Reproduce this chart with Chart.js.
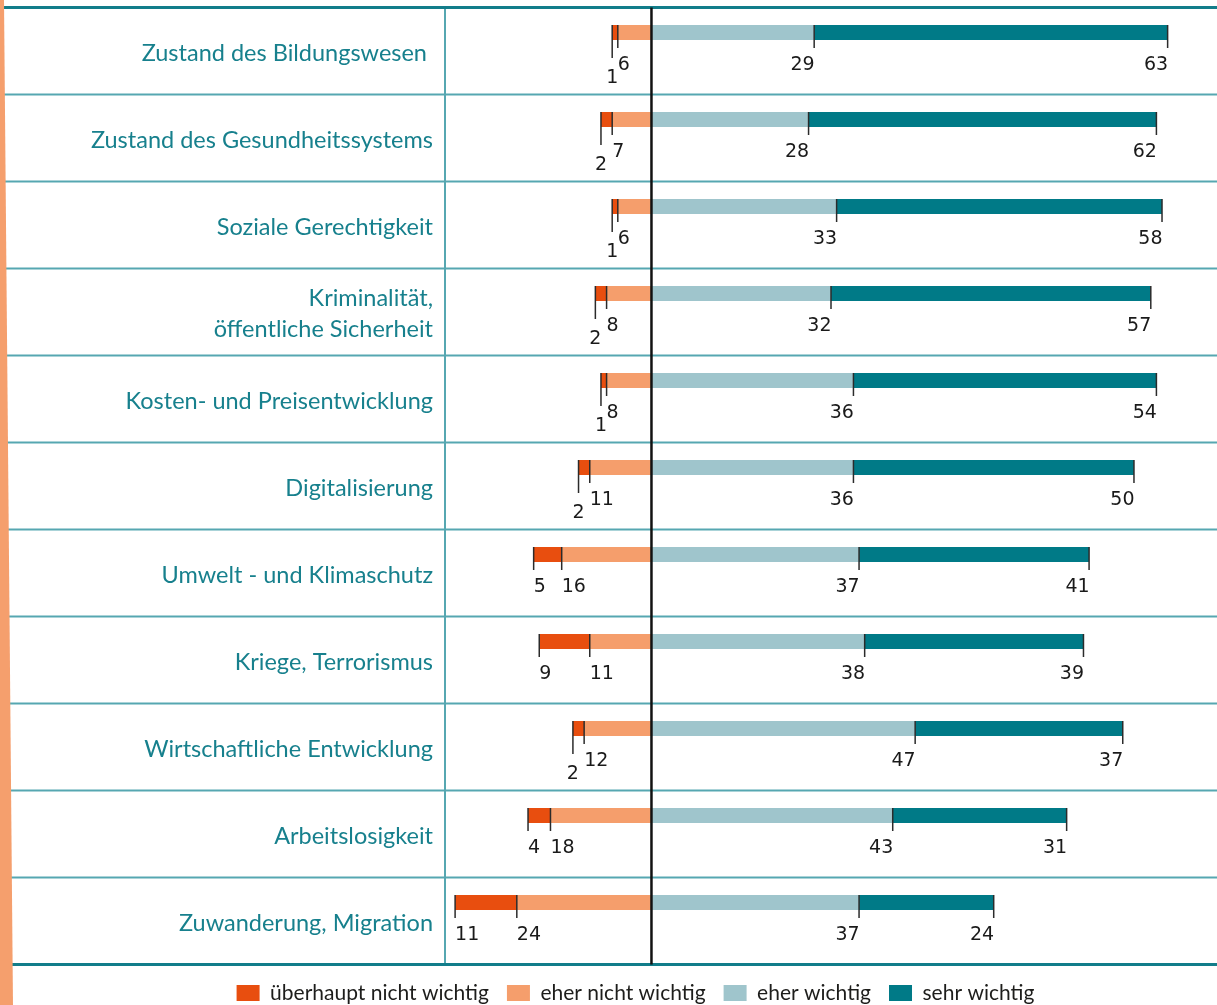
<!DOCTYPE html>
<html lang="de">
<head>
<meta charset="utf-8">
<title>Wichtigkeit von Themen</title>
<script src="https://cdn.jsdelivr.net/npm/chart.js@4.4.1/dist/chart.umd.min.js"></script>
<style>
  html, body { margin: 0; padding: 0; background: #fff; }
  #wrap { position: relative; width: 1217px; height: 1005px; }
</style>
</head>
<body>
<div id="wrap"><canvas id="chart"></canvas></div>
<script>
const categories = [
  'Zustand des Bildungswesen ',
  'Zustand des Gesundheitssystems',
  'Soziale Gerechtigkeit',
  ['Kriminalität,', 'öffentliche Sicherheit'],
  'Kosten- und Preisentwicklung',
  'Digitalisierung',
  'Umwelt - und Klimaschutz',
  'Kriege, Terrorismus',
  'Wirtschaftliche Entwicklung',
  'Arbeitslosigkeit',
  'Zuwanderung, Migration'
];

// Anteile in Prozent
const notAtAll    = [1, 2, 1, 2, 1, 2, 5, 9, 2, 4, 11];
const ratherNot   = [6, 7, 6, 8, 8, 11, 16, 11, 12, 18, 24];
const ratherYes   = [29, 28, 33, 32, 36, 36, 37, 38, 47, 43, 37];
const veryMuch    = [63, 62, 58, 57, 54, 50, 41, 39, 37, 31, 24];

const seriesNames = ['überhaupt nicht wichtig', 'eher nicht wichtig', 'eher wichtig', 'sehr wichtig'];
const seriesColors = ['#e84e0f', '#f59e6c', '#9fc5cc', '#007a87'];

const TEAL = '#17808d';
const LINE = '#56a7b1';

// rahmen, trennlinien, orangener streifen links
const framePlugin = {
  id: 'frame',
  beforeDatasetsDraw(chart) {
    const { ctx, chartArea: a, width, height } = chart;
    const ys = chart.scales.y;
    ctx.save();
    ctx.strokeStyle = LINE;
    ctx.lineWidth = 2;
    for (let i = 1; i < categories.length; i++) {
      const y = (ys.getPixelForValue(i - 1) + ys.getPixelForValue(i)) / 2;
      ctx.beginPath(); ctx.moveTo(0, y); ctx.lineTo(width, y); ctx.stroke();
    }
    ctx.beginPath(); ctx.moveTo(a.left, a.top); ctx.lineTo(a.left, a.bottom); ctx.stroke();

    ctx.strokeStyle = '#127d8a';
    ctx.lineWidth = 3;
    [a.top, a.bottom].forEach(y => {
      ctx.beginPath(); ctx.moveTo(0, y); ctx.lineTo(width, y); ctx.stroke();
    });

    ctx.fillStyle = '#f59f6d';
    ctx.beginPath();
    ctx.moveTo(0, 0); ctx.lineTo(4, 0); ctx.lineTo(13, height); ctx.lineTo(0, height);
    ctx.closePath(); ctx.fill();
    ctx.restore();
  },
  afterDatasetsDraw(chart) {
    const { ctx, chartArea: a } = chart;
    const zero = chart.scales.x.getPixelForValue(0);
    ctx.save();
    ctx.strokeStyle = '#111';
    ctx.lineWidth = 2.5;
    ctx.beginPath(); ctx.moveTo(zero, a.top); ctx.lineTo(zero, a.bottom); ctx.stroke();

    // werte mit kleinen markierungsstrichen
    ctx.font = '19px "DejaVu Sans"';
    ctx.fillStyle = '#1a1a1a';
    ctx.strokeStyle = '#2b2b2b';
    ctx.lineWidth = 1.5;
    const bars = [0, 1, 2, 3].map(d => chart.getDatasetMeta(d).data);
    const values = [notAtAll, ratherNot, ratherYes, veryMuch];

    const tick = (x, y1, y2) => {
      ctx.beginPath(); ctx.moveTo(x, y1); ctx.lineTo(x, y2); ctx.stroke();
    };

    categories.forEach((_, i) => {
      const el = bars.map(b => b[i].getProps(['x', 'y', 'height'], true));
      const top = el[0].y - el[0].height / 2;
      const bottom = el[0].y + el[0].height / 2;

      // linke seite
      const outerText = String(values[0][i]);
      const cramped = el[1].x - el[0].x < ctx.measureText(outerText).width + 4;
      tick(el[0].x, top, bottom + (cramped ? 18 : 8));
      tick(el[1].x, top, bottom + 8);
      if (cramped) {
        ctx.textAlign = 'center';
        ctx.fillText(outerText, el[0].x, bottom + 38);
      } else {
        ctx.textAlign = 'left';
        ctx.fillText(outerText, el[0].x, bottom + 25);
      }
      ctx.textAlign = 'left';
      ctx.fillText(String(values[1][i]), el[1].x, bottom + 25);

      // rechte seite
      ctx.textAlign = 'right';
      [2, 3].forEach(d => {
        tick(el[d].x, top, bottom + 8);
        ctx.fillText(String(values[d][i]), el[d].x + 0.5, bottom + 25);
      });
    });
    ctx.restore();
  }
};

const negative = arr => arr.map(v => -v);

new Chart(document.getElementById('chart'), {
  type: 'bar',
  data: {
    labels: categories,
    datasets: [
      { label: seriesNames[0], data: negative(notAtAll), backgroundColor: seriesColors[0], order: 1 },
      { label: seriesNames[1], data: negative(ratherNot), backgroundColor: seriesColors[1], order: 0 },
      { label: seriesNames[2], data: ratherYes, backgroundColor: seriesColors[2], order: 2 },
      { label: seriesNames[3], data: veryMuch, backgroundColor: seriesColors[3], order: 3 },
      // leerer zweiter stapel schiebt die balken in die obere zeilenhaelfte
      { label: '', data: categories.map(() => 0), backgroundColor: 'transparent', stack: 'leer', order: 4 }
    ].map(ds => Object.assign({ stack: 'werte', borderWidth: 0 }, ds))
  },
  options: {
    indexAxis: 'y',
    responsive: true,
    maintainAspectRatio: false,
    animation: false,
    categoryPercentage: 0.8506,
    barPercentage: 0.4054,
    layout: { padding: { top: 7.5, left: 54, right: 0, bottom: -8.5 } },
    scales: {
      x: { type: 'linear', min: -36.8, max: 100.8, stacked: true, display: false },
      y: {
        grid: { display: false, drawTicks: false },
        border: { display: false },
        ticks: {
          color: TEAL,
          font: { family: 'Lato', size: 23.5, lineHeight: 1.3 },
          padding: 12,
          labelOffset: 2,
          autoSkip: false
        },
        afterFit(scale) {
          scale.width = 445 - 54;
          scale.paddingTop = 0;
          scale.paddingBottom = 0;
        }
      }
    },
    plugins: {
      tooltip: { enabled: false },
      legend: {
        position: 'bottom',
        labels: {
          filter: item => item.text !== '',
          sort: (a, b) => a.datasetIndex - b.datasetIndex,
          boxWidth: 23,
          boxHeight: 16,
          padding: 18,
          color: '#1d1d1b',
          font: { family: 'Lato', size: 21 }
        }
      }
    }
  },
  plugins: [framePlugin]
});
</script>
</body>
</html>
